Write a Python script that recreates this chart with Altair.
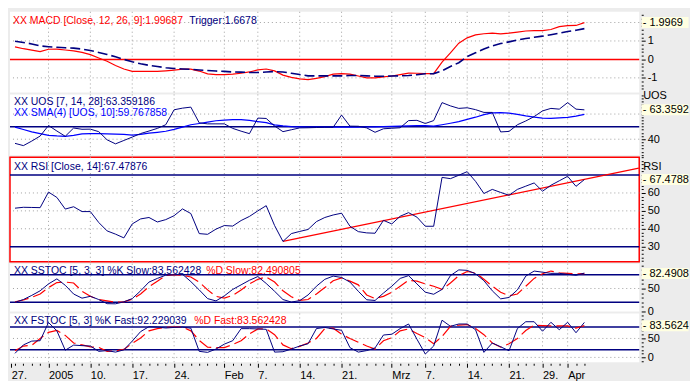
import altair as alt
import numpy as np
import pandas as pd

# ---------------- data ----------------
day = list(range(69))

macd = [
    0.68, 0.58, 0.50, 0.42, 0.55, 0.56, 0.51, 0.46, 0.38, 0.26,
    0.08, -0.10, -0.33, -0.52, -0.65, -0.65, -0.65, -0.65, -0.62, -0.58,
    -0.53, -0.53, -0.63, -0.78, -0.82, -0.82, -0.80, -0.75, -0.68, -0.57,
    -0.52, -0.62, -0.85, -0.97, -1.05, -1.09, -1.03, -0.93, -0.80, -0.77,
    -0.80, -0.90, -1.00, -1.00, -0.95, -0.90, -0.82, -0.74, -0.75, -0.77,
    -0.77, -0.15, 0.35, 0.88, 1.17, 1.33, 1.39, 1.42, 1.38, 1.42,
    1.48, 1.54, 1.56, 1.56, 1.62, 1.78, 1.83, 1.84, 1.99687,
]
trigger = [
    0.98, 0.92, 0.84, 0.73, 0.69, 0.66, 0.63, 0.61, 0.56, 0.48,
    0.38, 0.27, 0.14, 0.00, -0.13, -0.24, -0.32, -0.38, -0.45, -0.49,
    -0.52, -0.54, -0.57, -0.60, -0.63, -0.65, -0.68, -0.69, -0.71, -0.71,
    -0.68, -0.66, -0.68, -0.75, -0.82, -0.89, -0.89, -0.89, -0.89, -0.89,
    -0.87, -0.87, -0.89, -0.91, -0.91, -0.90, -0.89, -0.87, -0.83, -0.78,
    -0.77, -0.62, -0.38, -0.18, 0.15, 0.36, 0.56, 0.73, 0.86, 0.95,
    1.05, 1.13, 1.20, 1.26, 1.34, 1.42, 1.51, 1.58, 1.6678,
]
uos = [
    36.7, 34.9, 38.5, 42.5, 50.9, 46.5, 42.3, 48.9, 47.9, 48.0,
    46.0, 39.5, 36.3, 39.0, 41.7, 44.5, 46.5, 48.6, 51.5, 63.4,
    64.7, 65.5, 53.0, 52.2, 52.2, 52.2, 48.6, 46.4, 44.4, 56.8,
    56.5, 50.5, 46.0, 47.5, 49.0, 49.1, 49.3, 49.5, 49.5, 59.2,
    50.4, 50.3, 49.0, 45.5, 48.3, 48.7, 49.1, 54.8, 55.0, 52.5,
    54.8, 69.1, 66.5, 64.5, 65.0, 63.5, 61.3, 61.3, 45.8, 46.2,
    51.5, 54.5, 58.0, 62.5, 64.5, 63.9, 69.1, 63.9, 63.359186,
]
uos_sma = [
    49.6, 47.7, 45.8, 44.4, 43.1, 42.6, 42.3, 43.0, 44.2, 44.4,
    44.4, 44.3, 44.1, 43.9, 43.2, 43.8, 44.8, 45.5, 46.3, 47.8,
    49.6, 51.5, 52.5, 53.6, 54.7, 55.2, 55.6, 55.5, 54.9, 54.0,
    53.2, 51.4, 50.6, 50.0, 49.8, 49.6, 49.6, 49.6, 49.6, 49.6,
    49.6, 49.6, 49.7, 49.8, 50.0, 50.2, 50.4, 50.6, 50.9, 50.8,
    50.4, 51.5, 52.7, 54.0, 55.8, 57.5, 59.5, 61.0, 61.1, 60.8,
    59.7, 58.5, 57.6, 56.8, 56.6, 56.9, 57.3, 58.3, 59.767858,
]
rsi = [
    51.5, 52.0, 51.9, 51.8, 60.5, 57.5, 51.0, 52.3, 49.6, 49.6,
    43.5, 38.8, 37.0, 34.9, 42.7, 45.5, 46.3, 43.8, 45.1, 47.3,
    51.1, 48.5, 37.3, 36.9, 39.8, 41.8, 41.5, 44.6, 46.9, 50.0,
    52.9, 41.8, 32.9, 37.3, 38.5, 39.6, 44.0, 46.3, 47.7, 48.7,
    41.4, 38.4, 37.7, 37.5, 44.7, 42.7, 47.0, 49.0, 46.5, 41.4,
    41.4, 68.7, 68.0, 69.9, 71.9, 66.5, 59.7, 62.0, 60.3, 58.7,
    62.0, 63.8, 65.6, 61.0, 64.3, 66.8, 69.3, 63.7, 67.47876,
]
rsi_trend_day = [32, 74.5]
rsi_trend_val = [32.9, 73.9]

sstoc_k = [
    20, 26, 35, 45, 60, 71, 57, 38, 29, 33,
    26, 17, 16.7, 21, 28, 45, 64, 72, 79, 80,
    81, 65, 47, 28, 23, 34, 48, 58, 68, 76,
    61, 44, 26, 20.5, 23.6, 36, 55, 70, 77, 74,
    64, 44, 25.5, 24, 40, 55, 72, 78, 60, 42,
    37.5, 48, 78, 90.5, 89.5, 82, 67, 45, 27.5, 30.5,
    47, 77, 88, 85.5, 83, 83, 81, 78.8, 83.562428,
]
sstoc_d = [
    21, 25, 31, 38, 52, 63, 64, 62, 44, 33,
    26, 23, 20, 21, 27, 38, 54, 66, 78, 80,
    79, 75, 64, 47, 33, 29, 35, 47, 60, 70,
    75, 64, 45, 32, 24, 26, 38, 52, 67, 73,
    66, 58, 36, 28, 33, 42, 55, 68, 66, 60,
    55, 48, 62, 78, 87, 84, 70, 55, 42, 34,
    38, 55, 72, 82, 88, 84, 83, 82, 82.490805,
]
fstoc_k = [
    10.8, 33, 43, 44, 92, 70, 19, 32.5, 31, 30,
    16, 18, 14, 20, 43, 68, 81, 80, 77.5, 79,
    80, 77, 16, 13.3, 22, 35, 44, 75.8, 75.8, 75,
    74, 14, 15, 22, 30, 36, 76, 79, 75, 71.5,
    25.8, 14, 18, 25, 59, 61, 76, 88, 48, 9,
    30, 98, 82, 88, 88, 73, 13.3, 38, 28, 17.5,
    76, 94, 94, 69, 92.5, 73, 92.5, 65, 92.229039,
]
fstoc_d = [
    17.5, 30, 32, 50, 66, 71, 58, 38, 33, 28,
    26.5, 16, 17, 21, 37, 51, 70, 76, 79, 80,
    80, 70, 45, 27, 26, 25.8, 34, 44, 62, 75,
    75, 60, 33, 23, 29, 38, 50, 76, 77, 61,
    50, 40, 30, 22, 44, 52, 70, 75, 63, 52,
    36, 55, 82, 85, 86.5, 76, 60, 38, 27, 36,
    50, 71, 85, 84, 83, 83, 83, 77, 83.562428,
]

date_tick_day = [-0.45, 4, 9, 14, 19, 25, 29, 34, 39, 45, 49, 54, 59, 63, 66]
date_tick_label = ["27.", "2005", "10.", "17.", "24.", "Feb", "7.", "14.", "21.",
                   "Mrz", "7.", "14.", "21.", "29.", "Apr"]

for s in (macd, trigger, uos, uos_sma, rsi, sstoc_k, sstoc_d, fstoc_k, fstoc_d):
    assert len(s) == len(day)

# ---------------- styling ----------------
NAVY = "#000080"
RED = "#ff0000"
BLUE = "#0000ff"
GRID = "#a0a0a0"
BG = "#ececec"
FONT = "Liberation Sans"
FS = 11
TFS = 10.5
W = 632
PX_PER_DAY = 8.41
XDOM = [-0.6, round(-0.6 + W / PX_PER_DAY, 3)]


def ternary(mapping):
    expr = "''"
    for val, lab in reversed(list(mapping.items())):
        expr = f"(datum.value == {val} ? '{lab}' : {expr})"
    return expr


def y_axis(dom, step, labels):
    lo = np.ceil(dom[0] / step) * step
    vals = [round(float(v), 4) for v in np.arange(lo, dom[1] + 1e-9, step)]
    for k in labels:
        if k not in vals:
            vals.append(k)
    majors = list(labels.keys())
    return alt.Axis(
        orient="right", values=vals, labelExpr=ternary(labels),
        tickSize={"condition": {"test": f"indexof({majors}, datum.value) >= 0", "value": 4}, "value": 2},
        tickColor="black", tickWidth=1, domain=False, grid=False, title=None,
        labelFont=FONT, labelFontSize=FS, labelColor="black", labelPadding=2,
        labelBaseline="middle", labelOverlap=False, labelFlush=False, offset=2,
    )


date_map = {d: l for d, l in zip(date_tick_day, date_tick_label)}
x_axis_bottom = alt.Axis(
    orient="bottom", values=[-0.45] + day, labelExpr=ternary(date_map),
    tickSize={"condition": {"test": f"indexof({date_tick_day}, datum.value) >= 0", "value": 4}, "value": 2},
    tickColor="black", domain=False, grid=False, title=None, labelAlign="left",
    labelBaseline="top", labelFont=FONT, labelFontSize=FS, labelColor="black",
    labelPadding=2, labelOverlap=False, labelFlush=False, offset=1,
)


def xenc(axis):
    return alt.X("i:Q", scale=alt.Scale(domain=XDOM, nice=False, zero=False), axis=axis)


def panel(height, dom, step, labels, lines, solid, dotted, readout, titles,
          axis_title=None, xaxis=None, extra=None, view=None):
    yax = y_axis(dom, step, labels)

    def yenc():
        return alt.Y("v:Q", scale=alt.Scale(domain=dom, nice=False, zero=False), axis=yax)

    layers = []
    vgrid = pd.DataFrame({"i": [d for d in date_tick_day if d >= 0]})
    layers.append(alt.Chart(vgrid).mark_rule(color=GRID, strokeDash=[1, 3], strokeWidth=1)
                  .encode(x=xenc(xaxis)))
    if dotted:
        layers.append(alt.Chart(pd.DataFrame({"v": dotted}))
                      .mark_rule(color=GRID, strokeDash=[1, 3], strokeWidth=1).encode(y=yenc()))
    for vals, col, width in solid:
        layers.append(alt.Chart(pd.DataFrame({"v": vals}))
                      .mark_rule(color=col, strokeWidth=width).encode(y=yenc()))
    if extra is not None:
        layers.extend(extra(yenc))
    for vals, col, width, dash in lines:
        kw = dict(color=col, strokeWidth=width, clip=True)
        if dash:
            kw["strokeDash"] = dash
        layers.append(alt.Chart(pd.DataFrame({"i": day, "v": vals}))
                      .mark_line(**kw).encode(x=xenc(xaxis), y=yenc()))
    # panel titles inside the plot
    for text, col, xp, yp in titles:
        layers.append(alt.Chart(pd.DataFrame({"t": [text]}))
                      .mark_text(align="left", baseline="middle", font=FONT, fontSize=TFS, color=col)
                      .encode(x=alt.value(xp), y=alt.value(yp), text="t:N"))
    if axis_title:
        t, yp = axis_title
        layers.append(alt.Chart(pd.DataFrame({"t": [t]}))
                      .mark_text(align="left", baseline="middle", font=FONT, fontSize=FS, color="black")
                      .encode(x=alt.value(W + 4), y=alt.value(yp), text="t:N"))
    # last value read-out box on the right axis
    rd = pd.DataFrame({"v": [readout[0]], "t": ["- " + readout[1]]})
    box_w, box_h = 47.0, 11.0
    hh = round(box_h / box_w, 4)
    layers.append(alt.Chart(rd).mark_point(
        shape=f"M-1,-{hh}L1,-{hh}L1,{hh}L-1,{hh}Z", size=box_w * box_w,
        filled=True, fill="#ffffe1", opacity=1, strokeWidth=0)
        .encode(x=alt.value(W + 2.5 + box_w / 2), y=yenc()))
    layers.append(alt.Chart(rd).mark_text(align="left", baseline="middle", font=FONT,
                                          fontSize=FS, color="black")
                  .encode(x=alt.value(W + 3.5), y=yenc(), text="t:N"))
    props = dict(width=W, height=height)
    if view is not None:
        props["view"] = view
    return alt.layer(*layers).properties(**props)


# MACD
p_macd = panel(
    81, [-1.79, 2.58], 0.2, {1: "1", 0: "0", -1: "-1"},
    lines=[(macd, RED, 1.2, None), (trigger, NAVY, 1.6, [10, 4])],
    solid=[([0], RED, 1.5)], dotted=[2, 1, -1],
    readout=(macd[-1], f"{macd[-1]:.4f}"),
    titles=[(f"XX MACD [Close, 12, 26, 9]:{macd[-1]}", RED, 3, 9),
            (f"Trigger:{trigger[-1]}", NAVY, 180, 9)],
)

# UOS
p_uos = panel(
    61, [27.3, 75.6], 2.5, {40: "40"},
    lines=[(uos_sma, BLUE, 1.2, None), (uos, NAVY, 1.0, None)],
    solid=[([50], NAVY, 1.5)], dotted=[60, 40],
    readout=(uos[-1], f"{uos[-1]:.4f}"),
    titles=[(f"XX UOS [7, 14, 28]:{uos[-1]}", NAVY, 4, 8),
            (f"XX SMA(4) [UOS, 10]:{uos_sma[-1]}", BLUE, 4, 19)],
    axis_title=("UOS", 2),
)


def rsi_trend(yenc):
    return [alt.Chart(pd.DataFrame({"i": rsi_trend_day, "v": rsi_trend_val}))
            .mark_line(color=RED, strokeWidth=1.3).encode(x=xenc(None), y=yenc())]


p_rsi = panel(
    105, [21.6, 80.0], 2, {60: "60", 50: "50", 40: "40", 30: "30"},
    lines=[(rsi, NAVY, 1.0, None)],
    solid=[([70, 30], NAVY, 1.5)], dotted=[60, 50, 40],
    readout=(rsi[-1], f"{rsi[-1]:.4f}"),
    titles=[(f"XX RSI [Close, 14]:{rsi[-1]}", NAVY, 4, 10)],
    axis_title=("RSI", 10), extra=rsi_trend,
    view=alt.ViewBackground(stroke=RED, strokeWidth=1.5, fill="white"),
)

p_sst = panel(
    48, [0.0, 104.0], 10, {50: "50", 0: "0"},
    lines=[(sstoc_d, RED, 1.2, [14, 5]), (sstoc_k, NAVY, 1.0, None)],
    solid=[([80, 20], NAVY, 1.5)], dotted=[50],
    readout=(sstoc_d[-1], f"{sstoc_d[-1]:.4f}"),
    titles=[(f"XX SSTOC [5, 3, 3] %K Slow:{sstoc_k[-1]}", NAVY, 4, 7),
            (f"%D Slow:{sstoc_d[-1]}", RED, 197, 7)],
)

p_fst = panel(
    49, [-12.75, 115.75], 10, {50: "50", 0: "0"},
    lines=[(fstoc_d, RED, 1.2, [14, 5]), (fstoc_k, NAVY, 1.0, None)],
    solid=[([80, 20], NAVY, 1.5)], dotted=[50, 0],
    readout=(fstoc_d[-1], f"{fstoc_d[-1]:.4f}"),
    titles=[(f"XX FSTOC [5, 3] %K Fast:{fstoc_k[-1]}", NAVY, 4, 8),
            (f"%D Fast:{fstoc_d[-1]}", RED, 185, 8)],
    xaxis=x_axis_bottom,
)

chart = (
    alt.vconcat(p_macd, p_uos, p_rsi, p_sst, p_fst, spacing=2, bounds="flush")
    .properties(padding=0, background=BG)
    .configure_view(fill="white", stroke="transparent", strokeWidth=0)
)

chart.save("out.html", embed_options={"renderer": "svg", "actions": False})
